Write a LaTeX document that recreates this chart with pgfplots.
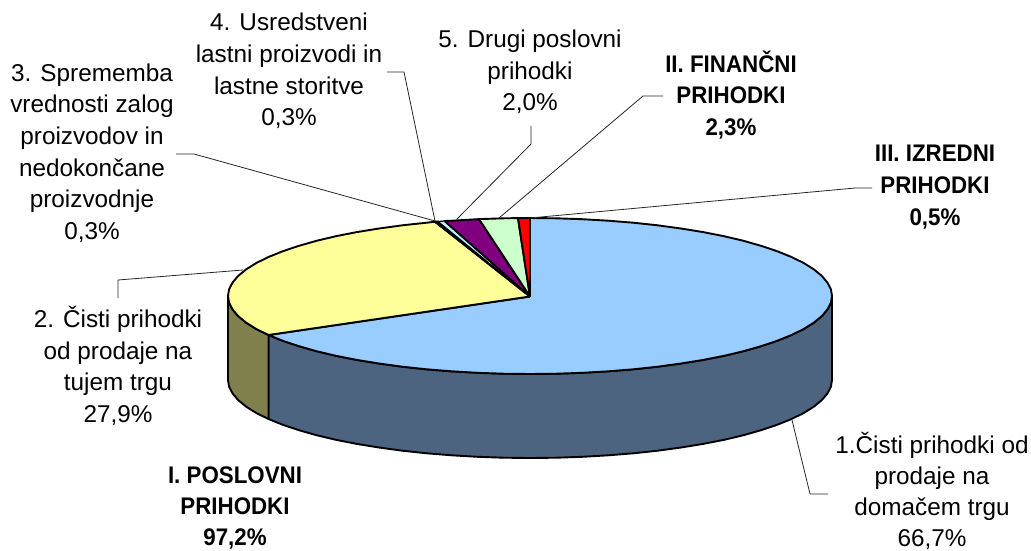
\documentclass[border=0pt]{standalone}
\usepackage{pgfplots}
\pgfplotsset{compat=1.18}
\usepackage{fontspec}
\setmainfont{Liberation Sans}
\newfontface\bfcond[FakeStretch=0.93]{Liberation Sans Bold}
\definecolor{cblue}{HTML}{99CCFF}
\definecolor{cyel}{HTML}{FFFF99}
\definecolor{cblueside}{HTML}{4C6480}
\definecolor{cyelside}{HTML}{80804C}
\definecolor{ccyan}{HTML}{BFF2FF}
\definecolor{cpur}{HTML}{800080}
\definecolor{cgrn}{HTML}{CCFFCC}
\tikzset{
  pie/.style={draw=black,line width=1.9pt},
  lead/.style={draw=black!85,line width=0.8pt},
  lab/.style={font=\fontsize{24.3}{31.6}\selectfont,align=center,text=black,inner sep=0pt},
  labb/.style={font=\fontsize{24}{31.6}\selectfont\bfcond,align=center,text=black,inner sep=0pt},
  labt/.style={font=\fontsize{24.3}{31}\selectfont,align=center,text=black,inner sep=0pt},
  labbt/.style={font=\fontsize{24}{31}\selectfont\bfcond,align=center,text=black,inner sep=0pt},
}
\begin{document}
\begin{tikzpicture}
\path[use as bounding box,clip] (0,0) rectangle (1031pt,550pt);
\begin{axis}[
  at={(0,0)},anchor=south west,
  scale only axis,width=1031pt,height=550pt,
  xmin=0,xmax=1031,ymin=0,ymax=550,y dir=reverse,
  hide axis,clip=false,
  every axis plot/.append style={line join=round,mark=none,solid},
]
% sides
\addplot[pie,fill=cblueside] coordinates {
(832,296)(830.9,302.8)(827.4,309.5)(821.7,316.2)(813.8,322.7)(803.7,329)(791.5,335)(777.4,340.7)(761.3,346.1)(743.5,351.2)(724.1,355.8)(703.2,359.9)(681,363.5)(657.6,366.7)(633.3,369.3)(608.2,371.3)(582.4,372.8)(556.3,373.7)(530,374)(503.7,373.7)(477.6,372.8)(451.8,371.3)(426.7,369.3)(402.4,366.7)(379,363.5)(356.8,359.9)(335.9,355.8)(316.5,351.2)(298.7,346.1)(282.6,340.7)(268.5,335)
(268.5,419)(282.6,424.7)(298.7,430.1)(316.5,435.2)(335.9,439.8)(356.8,443.9)(379,447.5)(402.4,450.7)(426.7,453.3)(451.8,455.3)(477.6,456.8)(503.7,457.7)(530,458)(556.3,457.7)(582.4,456.8)(608.2,455.3)(633.3,453.3)(657.6,450.7)(681,447.5)(703.2,443.9)(724.1,439.8)(743.5,435.2)(761.3,430.1)(777.4,424.7)(791.5,419)(803.7,413)(813.8,406.7)(821.7,400.2)(827.4,393.5)(830.9,386.8)(832,380)(832,296)};
\addplot[pie,fill=cyelside] coordinates {
(268.5,335)(256.3,329)(246.2,322.7)(238.3,316.2)(232.6,309.5)(229.1,302.8)(228,296)(228,380)(229.1,386.8)(232.6,393.5)(238.3,400.2)(246.2,406.7)(256.3,413)(268.5,419)(268.5,335)};
% top slices
\addplot[pie,fill=cblue] coordinates {
(530,296.5)(530,218)(556.3,218.3)(582.4,219.2)(608.2,220.7)(633.3,222.7)(657.6,225.3)(681,228.5)(703.2,232.1)(724.1,236.2)(743.5,240.8)(761.3,245.9)(777.4,251.3)(791.5,257)(803.7,263)(813.8,269.3)(821.7,275.8)(827.4,282.5)(830.9,289.2)(832,296)(830.9,302.8)(827.4,309.5)(821.7,316.2)(813.8,322.7)(803.7,329)(791.5,335)(777.4,340.7)(761.3,346.1)(743.5,351.2)(724.1,355.8)(703.2,359.9)(681,363.5)(657.6,366.7)(633.3,369.3)(608.2,371.3)(582.4,372.8)(556.3,373.7)(530,374)(503.7,373.7)(477.6,372.8)(451.8,371.3)(426.7,369.3)(402.4,366.7)(379,363.5)(356.8,359.9)(335.9,355.8)(316.5,351.2)(298.7,346.1)(282.6,340.7)(268.5,335)(530,296.5)};
\addplot[pie,fill=cyel] coordinates {
(530,296.5)(268.5,335)(256.3,329)(246.2,322.7)(238.3,316.2)(232.6,309.5)(229.1,302.8)(228,296)(229.1,289.2)(232.6,282.5)(238.3,275.8)(246.2,269.3)(256.3,263)(268.5,257)(282.6,251.3)(298.7,245.9)(316.5,240.8)(335.9,236.2)(356.8,232.1)(379,228.5)(402.4,225.3)(426.7,222.7)(435,221.7)(530,296.5)};
\addplot[pie,fill=cyel] coordinates {(530,296.5)(435,221.7)(438,221.5)(530,296.5)};
\addplot[pie,line width=1.2pt,fill=ccyan] coordinates {(530,296.5)(438,221.5)(444.5,221)(530,296.5)};
\addplot[pie,fill=cpur] coordinates {(530,296.5)(444.5,221)(451.8,220.7)(477.6,219.2)(479,219.1)(530,296.5)};
\addplot[pie,fill=cgrn] coordinates {(530,296.5)(479,219.1)(503.7,218.3)(518,218.1)(530,296.5)};
\addplot[pie,fill=red] coordinates {(530,296.5)(518,218.1)(530,218)(530,296.5)};
% leader lines
\addplot[lead] coordinates {(792,420)(810,494)(828,494)};
\addplot[lead] coordinates {(118,298)(118,280)(243,270)};
\addplot[lead] coordinates {(176,154)(194,154)(435,221)};
\addplot[lead] coordinates {(387,72)(404,72)(435,221)};
\addplot[lead] coordinates {(531,126)(531,144)(457,219)};
\addplot[lead] coordinates {(663,96)(643,96)(499,218)};
\addplot[lead] coordinates {(872,188)(855,188)(530,218)};
% labels
\node[labt] at (axis cs:932,491) {1.Čisti prihodki od\\prodaje na\\domačem trgu\\66,7\%};
\node[lab] at (axis cs:118,366) {2. Čisti prihodki\\od prodaje na\\tujem trgu\\27,9\%};
\node[lab] at (axis cs:92,153) {3. Sprememba\\vrednosti zalog\\proizvodov in\\nedokončane\\proizvodnje\\0,3\%};
\node[lab] at (axis cs:289,71) {4. Usredstveni\\lastni proizvodi in\\lastne storitve\\0,3\%};
\node[lab] at (axis cs:530,72) {5. Drugi poslovni\\prihodki\\2,0\%};
\node[labb] at (axis cs:731,95) {II. FINANČNI\\PRIHODKI\\2,3\%};
\node[labb] at (axis cs:935,187) {III. IZREDNI\\PRIHODKI\\0,5\%};
\node[labbt] at (axis cs:235,507.5) {I. POSLOVNI\\PRIHODKI\\97,2\%};
\end{axis}
\end{tikzpicture}
\end{document}
